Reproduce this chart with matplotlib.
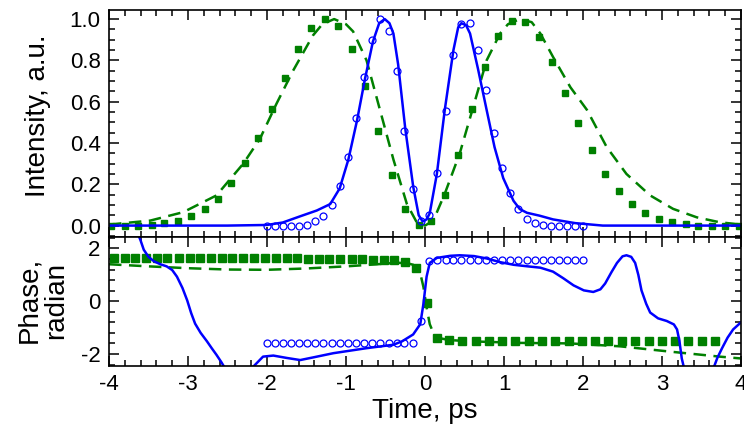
import numpy as np
import matplotlib.pyplot as plt
from matplotlib.ticker import MultipleLocator, FormatStrFormatter

plt.rcParams['font.family'] = ['Liberation Sans', 'DejaVu Sans']
plt.rcParams['axes.unicode_minus'] = False

# --- intensity, measured (open circles) ---
circ_t = [-2.00, -1.90, -1.80, -1.70, -1.59, -1.49, -1.39, -1.29, -1.18, -1.08,
          -0.98, -0.87, -0.77, -0.67, -0.57, -0.46, -0.36, -0.26, -0.15, -0.05,
          0.05, 0.15, 0.26, 0.36, 0.46, 0.57, 0.67, 0.77, 0.87, 0.98,
          1.08, 1.18, 1.29, 1.39, 1.49, 1.59, 1.70, 1.80, 1.90, 2.00]
circ_int = [0.0, 0.0, 0.0, 0.0, 0.0, 0.005, 0.02, 0.045, 0.10, 0.19,
            0.33, 0.52, 0.72, 0.90, 1.0, 0.94, 0.75, 0.46, 0.175, 0.02,
            0.05, 0.255, 0.553, 0.825, 0.974, 0.982, 0.85, 0.655, 0.45, 0.278,
            0.157, 0.078, 0.032, 0.011, 0.005, 0.0, 0.0, 0.0, 0.0, 0.0]
circ_phase = [-1.59, -1.59, -1.59, -1.59, -1.59, -1.59, -1.59, -1.59, -1.59, -1.59,
              -1.59, -1.59, -1.59, -1.59, -1.59, -1.59, -1.59, -1.59, -1.59, -0.75,
              1.51, 1.55, 1.55, 1.55, 1.55, 1.55, 1.55, 1.55, 1.55, 1.55,
              1.55, 1.55, 1.55, 1.55, 1.55, 1.55, 1.55, 1.55, 1.55, 1.55]

# --- intensity, solid blue curve ---
blue_t = [-4.0, -3.0, -2.5, -2.0, -1.8, -1.58, -1.37, -1.2, -1.08, -0.97, -0.86,
          -0.76, -0.66, -0.58, -0.51, -0.45, -0.40, -0.34, -0.25, -0.15, -0.08,
          -0.03, 0.02, 0.06, 0.15, 0.25, 0.36, 0.42, 0.46, 0.52, 0.57, 0.67,
          0.78, 0.88, 0.99, 1.12, 1.2, 1.29, 1.45, 1.62, 1.9, 2.25, 3.0, 4.0]
blue_int = [0.0, 0.0, 0.0, 0.003, 0.015, 0.045, 0.073, 0.104, 0.18, 0.32, 0.51,
            0.71, 0.89, 0.98, 1.0, 0.98, 0.93, 0.78, 0.47, 0.19, 0.05,
            0.02, 0.03, 0.06, 0.25, 0.56, 0.85, 0.96, 0.98, 0.97, 0.93, 0.76,
            0.56, 0.38, 0.23, 0.12, 0.08, 0.062, 0.048, 0.03, 0.012, 0.0, 0.0, 0.0]

# --- intensity, green squares ---
sq_t = [-3.97, -3.80, -3.63, -3.46, -3.30, -3.13, -2.96, -2.79, -2.62, -2.45,
        -2.28, -2.11, -1.94, -1.77, -1.61, -1.44, -1.27, -1.10, -0.93, -0.76,
        -0.59, -0.42, -0.25, -0.08, 0.08, 0.25, 0.42, 0.59, 0.76, 0.93,
        1.10, 1.27, 1.44, 1.61, 1.77, 1.94, 2.11, 2.28, 2.45, 2.62,
        2.79, 2.96, 3.13, 3.30, 3.46, 3.63, 3.80, 3.97]
sq_int = [0.0, 0.0, 0.0, 0.005, 0.013, 0.024, 0.044, 0.078, 0.129, 0.205,
          0.302, 0.424, 0.566, 0.715, 0.853, 0.955, 0.998, 0.966, 0.854, 0.675,
          0.459, 0.243, 0.078, 0.004, 0.024, 0.149, 0.34, 0.563, 0.767, 0.917,
          0.992, 0.985, 0.914, 0.79, 0.644, 0.497, 0.364, 0.251, 0.167, 0.103,
          0.063, 0.032, 0.016, 0.006, 0.0, 0.0, 0.0, 0.0]

# --- intensity, green dashed curve ---
gd_t = [-4.0, -3.48, -3.06, -2.64, -2.30, -2.09, -1.88, -1.67, -1.42, -1.30,
        -1.15, -1.0, -0.91, -0.74, -0.57, -0.40, -0.23, -0.105, 0.0, 0.105,
        0.25, 0.44, 0.61, 0.78, 0.95, 1.05, 1.2, 1.35, 1.46, 1.62,
        1.84, 2.05, 2.30, 2.55, 2.85, 3.14, 3.44, 3.73, 4.0]
gd_int = [0.005, 0.024, 0.065, 0.146, 0.30, 0.42, 0.59, 0.75, 0.92, 0.975,
          1.0, 0.975, 0.94, 0.80, 0.56, 0.32, 0.105, 0.016, 0.0, 0.024,
          0.154, 0.35, 0.574, 0.80, 0.93, 0.975, 1.0, 0.985, 0.93, 0.817,
          0.67, 0.56, 0.38, 0.25, 0.146, 0.081, 0.04, 0.016, 0.005]

# --- phase, solid blue curve ---
bph_t = [-3.64, -3.60, -3.56, -3.50, -3.43, -3.35, -3.27, -3.20, -3.14, -3.07,
         -3.01, -2.96, -2.91, -2.84, -2.76, -2.70, -2.64, -2.58, -2.54,
         -2.42, -2.30, -2.19, -2.05, -1.92, -1.75, -1.58, -1.40, -1.16, -0.74,
         -0.40, -0.29, -0.15, -0.06, -0.02, 0.02, 0.06, 0.15, 0.32, 0.44,
         0.62, 0.78, 0.95, 1.12, 1.30, 1.46, 1.62, 1.75, 1.88, 2.01, 2.13,
         2.22, 2.28, 2.36, 2.43, 2.50, 2.55, 2.61, 2.66, 2.70, 2.74, 2.80,
         2.85, 2.95, 3.06, 3.15, 3.19, 3.22, 3.25, 3.28, 3.36, 3.55, 3.65,
         3.70, 3.76, 3.83, 3.90, 4.0]
bph = [2.6, 2.3, 1.95, 1.68, 1.51, 1.40, 1.32, 1.18, 0.93, 0.50,
       0.03, -0.45, -0.85, -1.20, -1.52, -1.78, -2.03, -2.30, -2.50,
       -2.95, -2.95, -2.53, -2.1, -2.06, -2.15, -2.23, -2.12, -1.97, -1.78,
       -1.65, -1.52, -1.26, -0.87, -0.10, 0.93, 1.45, 1.64, 1.72, 1.74,
       1.71, 1.62, 1.48, 1.38, 1.32, 1.27, 1.12, 0.87, 0.60, 0.41, 0.35,
       0.45, 0.67, 1.10, 1.45, 1.70, 1.74, 1.68, 1.45, 1.0, 0.41, -0.10,
       -0.43, -0.65, -0.75, -0.88, -1.07, -1.50, -2.17, -2.55, -3.3, -3.3, -2.55,
       -2.15, -1.78, -1.38, -1.07, -0.80]

# --- phase, green squares ---
gsq_t = [-3.94, -3.80, -3.67, -3.53, -3.39, -3.26, -3.12, -2.98, -2.85, -2.71,
         -2.57, -2.44, -2.30, -2.16, -2.03, -1.89, -1.75, -1.62, -1.48, -1.34,
         -1.21, -1.07, -0.93, -0.80, -0.66, -0.52, -0.39, -0.25, -0.12, 0.02,
         0.15, 0.30, 0.47, 0.64, 0.81, 0.97, 1.14, 1.31, 1.48, 1.65,
         1.82, 1.99, 2.15, 2.32, 2.49, 2.66, 2.83, 3.00, 3.17, 3.33,
         3.50, 3.67]
gsq_ph = [1.62, 1.62, 1.62, 1.62, 1.62, 1.62, 1.62, 1.62, 1.62, 1.62,
          1.62, 1.62, 1.62, 1.62, 1.62, 1.62, 1.62, 1.62, 1.61, 1.60,
          1.60, 1.59, 1.58, 1.58, 1.57, 1.56, 1.55, 1.50, 1.25, -0.08,
          -1.39, -1.48, -1.49, -1.49, -1.49, -1.49, -1.49, -1.49, -1.49, -1.49,
          -1.49, -1.49, -1.49, -1.49, -1.49, -1.49, -1.49, -1.49, -1.49, -1.49,
          -1.49, -1.49]

# --- phase, green dashed curve ---
gdp_t = [-4.0, -3.5, -3.0, -2.5, -2.0, -1.5, -1.0, -0.6, -0.35, -0.2,
         -0.15, -0.06, -0.02, 0.02, 0.06, 0.105, 0.17, 0.3, 0.57, 1.2,
         1.84, 2.47, 3.1, 3.73, 4.0]
gdp_ph = [1.40, 1.32, 1.25, 1.20, 1.19, 1.24, 1.32, 1.40, 1.46, 1.42,
          1.38, 1.06, 0.54, -0.23, -0.87, -1.2, -1.39, -1.47, -1.52, -1.58,
          -1.60, -1.71, -1.91, -2.10, -2.17]

blue = '#0000ff'
green = '#008000'

fig = plt.figure(figsize=(7.44, 4.34), dpi=100)
ax1 = fig.add_axes([0.1465, 0.455, 0.8495, 0.522])
ax2 = fig.add_axes([0.1465, 0.157, 0.8495, 0.298], sharex=ax1)

# top panel: intensity
ax1.plot(gd_t, gd_int, color=green, lw=1.8, dashes=(5, 3))
ax1.plot(sq_t, sq_int, 's', color=green, ms=5, mec=green)
ax1.plot(blue_t, blue_int, color=blue, lw=1.8)
ax1.plot(circ_t, circ_int, 'o', ms=5, mfc='none', mec=blue, mew=0.9)
ax1.set_ylim(-0.053, 1.044)
ax1.yaxis.set_major_locator(MultipleLocator(0.2))
ax1.yaxis.set_minor_locator(MultipleLocator(0.05))
ax1.yaxis.set_major_formatter(FormatStrFormatter('%.1f'))
plt.setp(ax1.get_xticklabels(), visible=False)

# bottom panel: phase
ax2.plot(gdp_t, gdp_ph, color=green, lw=1.8, dashes=(5, 3))
ax2.plot(gsq_t, gsq_ph, 's', color=green, ms=5.5, mec=green)
ax2.plot(bph_t, bph, color=blue, lw=1.8)
ax2.plot(circ_t, circ_phase, 'o', ms=5, mfc='none', mec=blue, mew=0.9)
ax2.set_ylim(-2.45, 2.45)
ax2.yaxis.set_major_locator(MultipleLocator(2))
ax2.yaxis.set_minor_locator(MultipleLocator(0.4))
ax2.set_xlim(-4, 4)
ax2.xaxis.set_major_locator(MultipleLocator(1))
ax2.xaxis.set_minor_locator(MultipleLocator(0.2))
ax2.set_xlabel('Time, ps', fontsize=20, labelpad=2)

for ax in (ax1, ax2):
    ax.tick_params(which='both', direction='in', top=True, right=True,
                   labelsize=16, width=1.1, pad=6)
    ax.tick_params(which='major', length=7)
    ax.tick_params(which='minor', length=4)
    for s in ax.spines.values():
        s.set_linewidth(1.2)

# y labels placed as in the original figure
fig.text(0.051, 0.733, 'Intensity, a.u.', rotation=90, fontsize=20,
         ha='center', va='center')
fig.text(0.057, 0.308, 'Phase,\nradian', rotation=90, fontsize=20,
         ha='center', va='center', linespacing=1.05, multialignment='center')

fig.savefig('out.png', dpi=100)
